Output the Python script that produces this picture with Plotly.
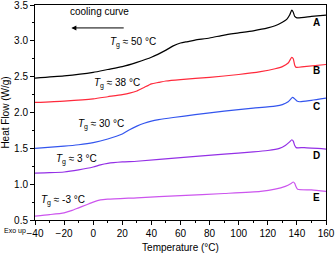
import plotly.graph_objects as go

# Temperature (°C) and heat flow (W/g) for each curve
x_A = [-40, -20, 0, 10, 20, 30, 40, 50, 55, 60, 65, 70, 80, 90, 100, 110, 120, 125, 130, 133, 135, 136.5, 137.5, 138.5, 140, 150, 160]
y_A = [2.48, 2.51, 2.56, 2.60, 2.64, 2.70, 2.77, 2.87, 2.93, 2.97, 2.99, 3.01, 3.04, 3.08, 3.11, 3.14, 3.18, 3.21, 3.26, 3.30, 3.36, 3.43, 3.40, 3.34, 3.32, 3.34, 3.36]

x_B = [-40, -20, 0, 10, 20, 25, 30, 35, 40, 45, 50, 60, 80, 100, 115, 125, 130, 134, 136.5, 137.5, 138.5, 139.5, 145, 160]
y_B = [2.14, 2.16, 2.19, 2.22, 2.25, 2.27, 2.30, 2.35, 2.40, 2.42, 2.44, 2.46, 2.49, 2.53, 2.57, 2.61, 2.64, 2.69, 2.77, 2.75, 2.66, 2.63, 2.64, 2.67]

x_C = [-40, -20, -10, 0, 10, 20, 25, 30, 35, 40, 45, 55, 70, 90, 110, 125, 130, 134, 137, 138.5, 140, 142, 150, 160]
y_C = [1.50, 1.53, 1.55, 1.58, 1.63, 1.70, 1.76, 1.81, 1.85, 1.88, 1.90, 1.93, 1.97, 2.02, 2.06, 2.09, 2.11, 2.15, 2.21, 2.19, 2.16, 2.15, 2.17, 2.20]

x_D = [-40, -30, -20, -10, 0, 5, 10, 20, 30, 60, 90, 110, 120, 128, 132, 135, 136.5, 137.5, 138.5, 139.5, 145, 160]
y_D = [1.155, 1.16, 1.17, 1.20, 1.24, 1.27, 1.29, 1.31, 1.32, 1.37, 1.42, 1.45, 1.47, 1.50, 1.54, 1.59, 1.62, 1.60, 1.54, 1.51, 1.51, 1.49]

x_E = [-40, -30, -20, -15, -10, -5, 0, 5, 10, 30, 60, 90, 115, 125, 132, 136, 137.5, 138.5, 139.5, 140.5, 150, 160]
y_E = [0.555, 0.575, 0.60, 0.63, 0.67, 0.71, 0.75, 0.78, 0.79, 0.81, 0.84, 0.87, 0.90, 0.93, 0.97, 1.01, 1.03, 1.01, 0.96, 0.93, 0.92, 0.90]

series = [
    ("A", x_A, y_A, "#000000"),
    ("B", x_B, y_B, "#ff2a3c"),
    ("C", x_C, y_C, "#3355ee"),
    ("D", x_D, y_D, "#9430e6"),
    ("E", x_E, y_E, "#cc55ee"),
]

curve_labels = ["A", "B", "C", "D", "E"]
label_y = [3.25, 2.58, 2.09, 1.40, 0.81]

tg_texts = ["<i>T</i><sub>g</sub> ≈ 50 °C", "<i>T</i><sub>g</sub> ≈ 38 °C",
            "<i>T</i><sub>g</sub> ≈ 30 °C", "<i>T</i><sub>g</sub> ≈ 3 °C",
            "<i>T</i><sub>g</sub> ≈ -3 °C"]
tg_x = [27.5, 16.5, 5.5, -11.5, -21]
tg_y = [2.97, 2.41, 1.83, 1.35, 0.77]

x_ticks = [-40, -20, 0, 20, 40, 60, 80, 100, 120, 140, 160]
y_ticks = [0.5, 1.0, 1.5, 2.0, 2.5, 3.0, 3.5]

fig = go.Figure()
for name, xs, ys, col in series:
    fig.add_trace(go.Scatter(x=xs, y=ys, mode="lines", name=name,
                             line=dict(color=col, width=1.2, shape="spline", smoothing=0.6),
                             showlegend=False))

FAM = "Liberation Sans, Arial, sans-serif"
font = dict(family=FAM, size=10, color="#000")
annotations = []
for lab, ly in zip(curve_labels, label_y):
    annotations.append(dict(x=157.5, y=ly, xref="x", yref="y", text=f"<b>{lab}</b>",
                            showarrow=False, xanchor="right", yanchor="middle",
                            font=dict(family=FAM, size=10, color="#000")))
for t, tx, ty in zip(tg_texts, tg_x, tg_y):
    annotations.append(dict(x=tx, y=ty, xref="x", yref="y", text=t, showarrow=False,
                            xanchor="center", yanchor="middle", font=dict(family=FAM, size=10, color="#000")))
annotations.append(dict(x=4, y=3.41, xref="x", yref="y", text="cooling curve", showarrow=False,
                        xanchor="center", yanchor="middle", font=dict(family=FAM, size=10, color="#000")))
annotations.append(dict(x=-15, y=3.18, ax=22, ay=3.18, xref="x", yref="y", axref="x", ayref="y",
                        text="", showarrow=True, arrowhead=2, arrowsize=1, arrowwidth=1,
                        arrowcolor="#000"))
annotations.append(dict(x=-0.069, y=-0.052, xref="paper", yref="paper", text="Exo up", showarrow=False,
                        xanchor="center", yanchor="middle",
                        font=dict(family=FAM, size=7, color="#000")))

fig.update_layout(
    width=335, height=254,
    margin=dict(l=35, r=9, t=5, b=34, autoexpand=False),
    paper_bgcolor="white", plot_bgcolor="white",
    font=font,
    annotations=annotations,
)
fig.update_xaxes(range=[-40, 160], tickvals=x_ticks, ticks="outside", ticklen=4, tickwidth=1,
                 tickcolor="#000", showline=True, linecolor="#000", linewidth=1, mirror=True,
                 showgrid=False, zeroline=False, ticklabeloverflow="allow",
                 minor=dict(tickvals=list(range(-30, 160, 20)), ticks="outside", ticklen=2, tickcolor="#000"),
                 title=dict(text="Temperature (°C)", standoff=5, font=dict(family=FAM, size=10)),
                 tickfont=dict(family=FAM, size=10))
fig.update_yaxes(range=[0.5, 3.5], tickvals=y_ticks, tickformat=".1f", ticks="outside", ticklen=4,
                 tickwidth=1, tickcolor="#000", showline=True, linecolor="#000", linewidth=1, mirror=True,
                 showgrid=False, zeroline=False, ticklabeloverflow="allow",
                 minor=dict(tickvals=[0.75, 1.25, 1.75, 2.25, 2.75, 3.25], ticks="outside", ticklen=2, tickcolor="#000"),
                 title=dict(text="Heat Flow (W/g)", standoff=3, font=dict(family=FAM, size=10)),
                 tickfont=dict(family=FAM, size=10))

fig.write_html("out.html", config={"displayModeBar": False},
               post_script="document.body.style.margin='0';document.body.style.overflow='hidden';")
